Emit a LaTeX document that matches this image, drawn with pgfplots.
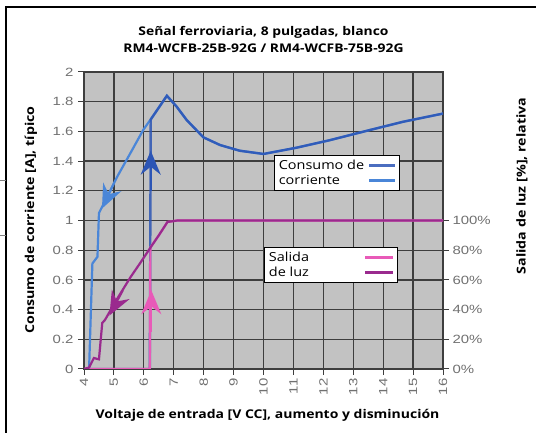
\documentclass[border=0pt]{standalone}
\usepackage{pgfplots}
\pgfplotsset{compat=1.18}
\usepackage{fontspec}
\setmainfont{Open Sans}[FakeStretch=1.16]
\newfontfamily\tickfont{Liberation Sans}[FakeStretch=1.25]
\usetikzlibrary{arrows.meta}
\definecolor{bggray}{HTML}{C2C2C2}
\definecolor{gridc}{HTML}{3E3E3E}
\definecolor{ltblue}{HTML}{4A86D8}
\definecolor{dkblue}{HTML}{2C55B5}
\definecolor{pinkc}{HTML}{E85AB8}
\definecolor{purp}{HTML}{9A2A8E}
\definecolor{tickgray}{HTML}{707070}
\begin{document}
\begin{tikzpicture}[x=1bp,y=1bp]
\path[use as bounding box] (0,0) rectangle (536,433);
\draw[line width=1.2bp] (536,426) -- (6,426) -- (6,0);
\draw[line width=0.6bp, gray] (0,253) -- (6,253);
\draw[line width=0.6bp, gray] (0,198) -- (6,198);
\begin{axis}[
  at={(84bp,64bp)}, anchor=south west, scale only axis,
  width=359bp, height=297bp,
  xmin=4, xmax=16, ymin=0, ymax=2,
  xtick={4,5,...,16},
  ytick={0,0.2,0.4,0.6,0.8,1,1.2,1.4,1.6,1.8,2},
  ytick pos=left, xtick pos=bottom,
  tick align=outside, major tick length=6bp,
  tick style={gridc, line width=1bp},
  grid=major, grid style={gridc, line width=1.3bp},
  axis line style={draw=gridc, line width=1.3bp},
  axis background/.style={fill=bggray},
  /pgf/number format/.cd, fixed, precision=1, assume math mode=true,
  /pgfplots/.cd,
  tick label style={font=\tickfont\fontsize{12}{14}\selectfont, text=tickgray},
  yticklabel style={xshift=-1bp},
  xticklabel style={rotate=90, anchor=east},
  legend style={at={(0.88,0.72)}, anchor=north east, draw=black, line width=1bp, fill=white,
    font=\fontsize{12.5}{15}\selectfont, inner sep=2.5bp, row sep=0bp},
  legend cell align=left, legend plot pos=right, reverse legend,
  legend image code/.code={\path (0bp,0bp); \draw[#1, line width=3.2bp] (2bp,0bp) -- (28bp,0bp);},
]
\addplot[ltblue, line width=2.2bp] coordinates {
(4.17,0) (4.28,0.71) (4.45,0.756) (4.5,1.05) (5.11,1.295) (5.61,1.475) (5.98,1.61) (6.26,1.69) (6.5,1.76) (6.77,1.84)
(7.1,1.766) (7.43,1.677) (7.99,1.56) (8.55,1.508) (9.2,1.47) (10,1.448) (11.1,1.49) (12.2,1.54) (13.57,1.61) (14.67,1.665) (16,1.72)};
\addlegendentry{corriente}
\addplot[dkblue, line width=2.4bp, opacity=0.85] coordinates {
(4,0) (6.2,0) (6.23,1.68) (6.5,1.76) (6.77,1.84)
(7.1,1.766) (7.43,1.677) (7.99,1.56) (8.55,1.508) (9.2,1.47) (10,1.448) (11.1,1.49) (12.2,1.54) (13.57,1.61) (14.67,1.665) (16,1.72)};
\addlegendentry{Consumo de}
\addplot[forget plot, dkblue, line width=2bp, -{Stealth[length=24bp,width=20bp,inset=8bp]}] coordinates {(6.23,1.2) (6.23,1.47)};
\addplot[forget plot, ltblue, line width=2bp, -{Stealth[length=24bp,width=20bp,inset=8bp]}] coordinates {(5.0,1.25) (4.6,1.08)};
\end{axis}
\begin{axis}[
  at={(84bp,64bp)}, anchor=south west, scale only axis,
  width=359bp, height=297bp,
  xmin=4, xmax=16, ymin=0, ymax=200,
  axis x line=none, axis y line*=right,
  ytick={0,20,40,60,80,100},
  yticklabel={\pgfmathprintnumber{\tick}\%},
  tick align=outside, major tick length=6bp,
  tick style={gridc, line width=1bp},
  y axis line style={draw=none},
  /pgf/number format/assume math mode=true,
  tick label style={font=\tickfont\fontsize{12}{14}\selectfont, text=tickgray},
  legend style={at={(0.874,0.41)}, anchor=north east, draw=black, line width=1bp, fill=white,
    font=\fontsize{12.5}{15}\selectfont, inner sep=2.5bp, row sep=0bp},
  legend cell align=left, legend plot pos=right,
  legend image code/.code={\path (0bp,0bp); \draw[#1, line width=3.2bp] (53bp,0bp) -- (81bp,0bp);},
]
\addplot[pinkc, line width=2.2bp] coordinates {
(4,0) (6.2,0) (6.22,82) (6.5,90) (6.79,99) (7.12,100) (16,100)};
\addlegendentry{Salida}
\addplot[purp, line width=2.2bp] coordinates {
(4,0) (4.17,1) (4.33,7.4) (4.5,6.5) (4.61,31) (4.7,33) (5.1,47) (5.56,62) (5.9,72) (6.23,82) (6.5,90) (6.79,99) (7.12,100) (16,100)};
\addlegendentry{de luz}
\addplot[forget plot, pinkc, line width=2bp, -{Stealth[length=24bp,width=20bp,inset=8bp]}] coordinates {(6.25,25) (6.25,53)};
\addplot[forget plot, purp, line width=2bp, -{Stealth[length=24bp,width=20bp,inset=8bp]}] coordinates {(5.3,53) (4.85,36)};
\end{axis}
\node[align=center, font=\bfseries\fontsize{12}{17}\selectfont] at (263.5,393.5) {Señal ferroviaria, 8 pulgadas, blanco\\RM4-WCFB-25B-92G / RM4-WCFB-75B-92G};
\node[font=\bfseries\fontsize{12.1}{15}\selectfont] at (267.5,18) {Voltaje de entrada [V CC], aumento y disminución};
\node[rotate=90, font=\bfseries\fontsize{12.3}{15}\selectfont] at (31,213) {Consumo de corriente [A], típico};
\node[rotate=90, font=\bfseries\fontsize{12.3}{15}\selectfont] at (522,247) {Salida de luz [\%], relativa};
\end{tikzpicture}
\end{document}
